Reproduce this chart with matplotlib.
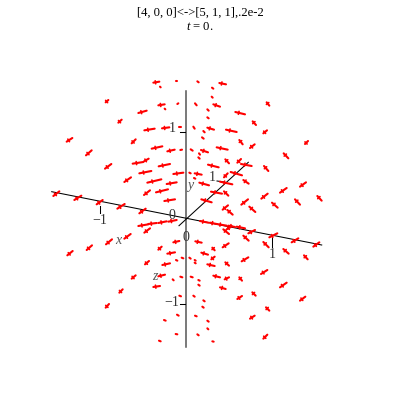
import matplotlib
matplotlib.use("Agg")
import matplotlib.pyplot as plt
import numpy as np

title_line = "[4, 0, 0]<->[5, 1, 1],.2e-2"
subtitle_line = "$t$ = 0."

# arrow samples, per quadrant: (x1, y1, x2, y2) in third-of-a-pixel units
upper_left = [
    (340,38,358,35),(407,33,411,33),(360,50,362,52),(197,97,205,90),(355,106,374,103),(412,102,415,100),
    (374,116,376,118),(295,129,320,122),(235,158,245,149),(313,181,344,176),(366,175,388,172),(416,170,422,170),
    (80,215,97,204),(275,220,287,208),(335,236,367,229),(382,244,404,239),(421,240,426,239),(138,256,155,241),
    (278,281,310,276),(312,274,326,266),(356,289,390,282),(195,296,214,282),(298,310,334,303),(400,312,430,308),
    (253,336,273,322),(322,338,364,328),(380,342,410,337),(312,375,330,361),(348,367,384,358),(373,393,405,388),
    (40,378,58,364),(103,390,124,377),(170,403,188,390),(232,416,254,402),(298,430,317,416),
]
upper_right = [
    (52,34,56,37),(118,39,138,43),(96,53,100,56),(95,80,98,83),(45,100,50,106),(100,103,120,110),(260,97,268,107),
    (82,118,86,122),(166,126,195,133),(82,142,86,145),(218,154,228,165),(40,170,44,176),(82,173,102,179),
    (138,179,170,186),(70,183,74,187),(250,190,261,181),(66,202,71,206),(178,210,188,223),(375,222,384,213),
    (32,238,38,242),(63,240,84,247),(110,232,143,239),(57,250,60,254),(210,234,224,223),(55,262,59,266),
    (311,250,325,265),(136,268,147,280),(172,278,183,267),(84,284,116,292),(183,282,215,288),(252,288,265,303),
    (132,322,143,310),(152,306,186,316),(28,308,32,310),(44,310,65,314),(42,324,46,326),(190,330,206,341),
    (120,335,157,343),(58,338,87,346),(360,350,378,337),(93,365,126,371),(132,364,145,377),(300,368,320,354),
    (64,388,95,397),(244,386,263,371),(345,388,360,404),(412,378,425,392),(276,398,293,413),(184,404,204,388),
    (128,419,144,406),(208,410,226,426),(142,420,158,434),
]
lower_left = [
    (295,78,325,73),(325,72,350,69),(355,69,380,64),(385,65,410,60),(313,98,330,85),(400,127,418,123),
    (253,116,272,102),(198,133,216,118),(140,150,156,136),(82,166,98,153),(355,149,365,140),(382,161,405,157),
    (408,180,412,182),(315,193,327,183),(367,195,390,190),(275,236,287,226),(355,229,375,224),(398,238,401,241),
    (421,230,427,232),(340,261,360,258),(238,278,248,268),(197,323,207,312),(418,287,423,289),(411,344,416,347),
    (372,360,377,362),(407,402,412,403),(357,422,362,424),
]
lower_right = [
    (60,63,85,68),(90,68,110,72),(110,72,140,77),(145,77,165,81),(170,80,195,85),(130,88,147,102),(140,88,155,78),
    (205,100,225,90),(190,107,206,122),(268,112,292,100),(250,126,266,142),(128,142,146,130),(335,127,355,115),
    (400,140,418,127),(46,124,65,128),(310,147,326,161),(372,166,383,178),(97,143,104,151),(64,158,84,164),
    (94,178,104,170),(185,184,205,172),(136,187,147,197),(5,173,10,175),(28,173,32,176),(44,180,47,182),
    (44,188,47,190),(82,193,104,198),(243,222,262,210),(100,227,120,232),(134,238,147,232),(178,232,186,242),
    (300,262,320,248),(32,230,38,232),(55,240,59,242),(55,254,59,257),(120,262,137,267),(172,297,186,288),
    (217,277,227,287),(360,302,376,290),(258,322,268,332),(210,356,224,347),(250,416,262,404),(70,301,74,304),
    (67,320,71,323),(40,287,44,290),(45,347,50,349),(82,362,86,365),(82,385,85,388),(52,403,56,406),(97,424,101,425),
]
quadrant_origins = [(40,70),(180,70),(40,200),(180,200)]

x_axis_ends = ([51.7,321.7],[191.7,245])
y_axis_ends = ([179,248.3],[225.7,162.3])
z_axis_ends = ([186,186],[91,346.5])

plt.rcParams['font.family'] = ['Liberation Serif']
plt.rcParams['mathtext.fontset'] = 'custom'
plt.rcParams['mathtext.it'] = 'Liberation Serif:italic'
plt.rcParams['mathtext.rm'] = 'Liberation Serif'

fig = plt.figure(figsize=(4,4), dpi=100)
ax = fig.add_axes([0,0,1,1])
ax.set_xlim(0,400); ax.set_ylim(400,0); ax.axis('off')

ax.plot(*z_axis_ends, color='#555555', lw=1.1, zorder=1)
ax.plot(*x_axis_ends, color='black', lw=0.75, zorder=1)
ax.plot(*y_axis_ends, color='black', lw=0.75, zorder=1)
for xs, ys in [([100.3,100.3],[206,213]),([272,272],[235,247]),([180,185],[132,132]),([180,185],[304,304]),([217,224],[181,182])]:
    ax.plot(xs, ys, color='black', lw=0.75, zorder=1)

for (ox, oy), quad in zip(quadrant_origins, [upper_left, upper_right, lower_left, lower_right]):
    a = np.array(quad, float)
    for x1, y1, x2, y2 in a:
        px1, py1, px2, py2 = ox+x1/3, oy+y1/3, ox+x2/3, oy+y2/3
        ax.plot([px1, px2], [py1, py2], color='#ff0000', lw=1.5,
                solid_capstyle='round', zorder=3)
        length = np.hypot(px2-px1, py2-py1)
        if length >= 3.5:
            ux, uy = (px2-px1)/length, (py2-py1)/length
            bx, by = px1+0.35*(px2-px1), py1+0.35*(py2-py1)
            ax.plot([bx-uy*1.5, bx+uy*1.5], [by+ux*1.5, by-ux*1.5], color='#ff0000', lw=1.2,
                    solid_capstyle='round', zorder=3)

ax.text(200,13,title_line,ha='center',va='center',fontsize=9.1,color='black')
ax.text(200,27,subtitle_line,ha='center',va='center',fontsize=9.1,color='black')

for x, y, s in [(172,128.5,'1'),(172,302,'\u22121'),(171.5,215.5,'0'),(186,237.5,'0'),(100,220,'\u22121'),(272,254.5,'1'),(212.5,177.5,'1')]:
    ax.text(x,y,s,ha='center',va='center',fontsize=10,color='#333333',zorder=2)
for x, y, s in [(118.5,240.5,'x'),(190.5,186,'y'),(154.5,277,'z')]:
    ax.text(x,y,s,ha='center',va='center',fontsize=10,style='italic',color='#555555',zorder=2)

fig.savefig('out.png', dpi=100)
